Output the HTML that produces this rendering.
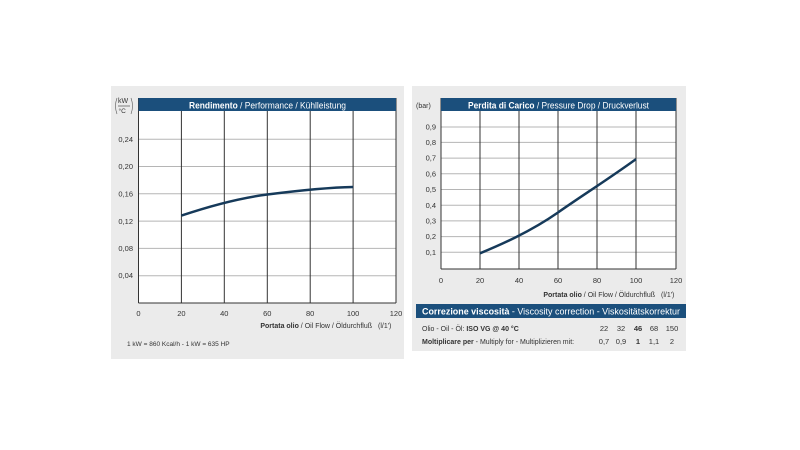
<!DOCTYPE html><html><head><style>body{margin:0;background:#fff}svg{display:block}</style></head><body>
<svg width="800" height="450" viewBox="0 0 800 450" xmlns="http://www.w3.org/2000/svg" font-family="Liberation Sans, sans-serif">
<rect width="800" height="450" fill="#fff"/>
<rect x="111" y="86" width="293" height="273" fill="#ebebeb"/>
<rect x="412" y="86" width="274" height="265" fill="#ebebeb"/>
<!-- left plot -->
<rect x="138.5" y="98" width="257.5" height="205" fill="#fff"/>
<g stroke="#b5b5b5" stroke-width="1">
<line x1="138.5" x2="396" y1="139.2" y2="139.2"/><line x1="138.5" x2="396" y1="166.5" y2="166.5"/><line x1="138.5" x2="396" y1="193.8" y2="193.8"/><line x1="138.5" x2="396" y1="221.1" y2="221.1"/><line x1="138.5" x2="396" y1="248.4" y2="248.4"/><line x1="138.5" x2="396" y1="275.7" y2="275.7"/>
</g>
<g stroke="#333" stroke-width="1">
<line x1="181.4" x2="181.4" y1="111" y2="303"/><line x1="224.3" x2="224.3" y1="111" y2="303"/><line x1="267.3" x2="267.3" y1="111" y2="303"/><line x1="310.2" x2="310.2" y1="111" y2="303"/><line x1="353.1" x2="353.1" y1="111" y2="303"/>
<line x1="138.5" x2="138.5" y1="98" y2="303"/><line x1="396" x2="396" y1="98" y2="303"/><line x1="138.5" x2="396" y1="303" y2="303"/>
</g>
<rect x="138.5" y="98" width="257.5" height="13" fill="#1b4f7c"/>
<text x="189" y="108.3" font-size="9" fill="#fff" textLength="157" lengthAdjust="spacingAndGlyphs"><tspan font-weight="bold">Rendimento</tspan> / Performance / Kühlleistung</text>
<path d="M181.4,215.6 C210,206 240,198 267.3,194.5 C295,191 325,187.5 353.1,187" fill="none" stroke="#163a5a" stroke-width="2.5"/>
<g font-size="7.5" fill="#333" text-anchor="end">
<text x="133" y="142">0,24</text><text x="133" y="169">0,20</text><text x="133" y="196.5">0,16</text><text x="133" y="224">0,12</text><text x="133" y="251">0,08</text><text x="133" y="278">0,04</text>
</g>
<text x="118" y="103" font-size="7" fill="#333">kW</text><line x1="118" x2="130" y1="106" y2="106" stroke="#333" stroke-width=".6"/><text x="118.5" y="113" font-size="6.5" fill="#333">°C</text>
<path d="M117,98 Q114,106 117,114 M131,98 Q134,106 131,114" fill="none" stroke="#555" stroke-width=".6"/>
<g font-size="7.5" fill="#333" text-anchor="middle">
<text x="138.5" y="316">0</text><text x="181.4" y="316">20</text><text x="224.3" y="316">40</text><text x="267.3" y="316">60</text><text x="310.2" y="316">80</text><text x="353.1" y="316">100</text><text x="396" y="316">120</text>
</g>
<text x="372" y="328" font-size="7" fill="#333" text-anchor="end"><tspan font-weight="bold">Portata olio</tspan> / Oil Flow / Öldurchfluß</text>
<text x="378" y="328" font-size="7" fill="#333">(l/1')</text>
<text x="127" y="346" font-size="6.5" fill="#333">1 kW = 860 Kcal/h  - 1 kW = 635 HP</text>
<!-- right plot -->
<rect x="441" y="98" width="235" height="171" fill="#fff"/>
<g stroke="#b5b5b5" stroke-width="1">
<line x1="441" x2="676" y1="127" y2="127"/><line x1="441" x2="676" y1="142.4" y2="142.4"/><line x1="441" x2="676" y1="158.1" y2="158.1"/><line x1="441" x2="676" y1="173.8" y2="173.8"/><line x1="441" x2="676" y1="189.5" y2="189.5"/><line x1="441" x2="676" y1="205.2" y2="205.2"/><line x1="441" x2="676" y1="220.9" y2="220.9"/><line x1="441" x2="676" y1="236.6" y2="236.6"/><line x1="441" x2="676" y1="252.3" y2="252.3"/>
</g>
<g stroke="#333" stroke-width="1">
<line x1="480" x2="480" y1="111" y2="269"/><line x1="519" x2="519" y1="111" y2="269"/><line x1="558" x2="558" y1="111" y2="269"/><line x1="597" x2="597" y1="111" y2="269"/><line x1="636" x2="636" y1="111" y2="269"/>
<line x1="441" x2="441" y1="98" y2="269"/><line x1="676" x2="676" y1="98" y2="269"/><line x1="441" x2="676" y1="269" y2="269"/>
</g>
<rect x="441" y="98" width="235" height="13" fill="#1b4f7c"/>
<text x="468" y="108.3" font-size="9" fill="#fff" textLength="181" lengthAdjust="spacingAndGlyphs"><tspan font-weight="bold">Perdita di Carico</tspan> / Pressure Drop / Druckverlust</text>
<path d="M480,253.3 C500,245 530,232 558,212.5 C580,197 610,178 636,159.1" fill="none" stroke="#163a5a" stroke-width="2.5"/>
<g font-size="7.5" fill="#333" text-anchor="end">
<text x="436" y="129.5">0,9</text><text x="436" y="145">0,8</text><text x="436" y="160.5">0,7</text><text x="436" y="176.5">0,6</text><text x="436" y="192">0,5</text><text x="436" y="208">0,4</text><text x="436" y="223.5">0,3</text><text x="436" y="239">0,2</text><text x="436" y="255">0,1</text>
</g>
<text x="416" y="108" font-size="7" fill="#333">(bar)</text>
<g font-size="7.5" fill="#333" text-anchor="middle">
<text x="441" y="283">0</text><text x="480" y="283">20</text><text x="519" y="283">40</text><text x="558" y="283">60</text><text x="597" y="283">80</text><text x="636" y="283">100</text><text x="676" y="283">120</text>
</g>
<text x="655" y="297" font-size="7" fill="#333" text-anchor="end"><tspan font-weight="bold">Portata olio</tspan> / Oil Flow  / Öldurchfluß</text>
<text x="661" y="297" font-size="7" fill="#333">(l/1')</text>
<rect x="416" y="304" width="270" height="14" fill="#1b4f7c"/>
<text x="422" y="314.5" font-size="9" fill="#fff" textLength="258" lengthAdjust="spacingAndGlyphs"><tspan font-weight="bold">Correzione viscosità</tspan>  -  Viscosity correction  -  Viskositätskorrektur</text>
<text x="422" y="331" font-size="7" fill="#333">Olio - Oil - Öl: <tspan font-weight="bold">ISO VG @ 40 °C</tspan></text>
<text x="422" y="344" font-size="7" fill="#333"><tspan font-weight="bold">Moltiplicare per</tspan> - Multiply for - Multiplizieren mit:</text>
<g font-size="7.5" fill="#333" text-anchor="middle">
<text x="604" y="331">22</text><text x="621" y="331">32</text><text x="638" y="331" font-weight="bold">46</text><text x="654" y="331">68</text><text x="672" y="331">150</text>
<text x="604" y="344">0,7</text><text x="621" y="344">0,9</text><text x="638" y="344" font-weight="bold">1</text><text x="654" y="344">1,1</text><text x="672" y="344">2</text>
</g>
</svg>
</body></html>
